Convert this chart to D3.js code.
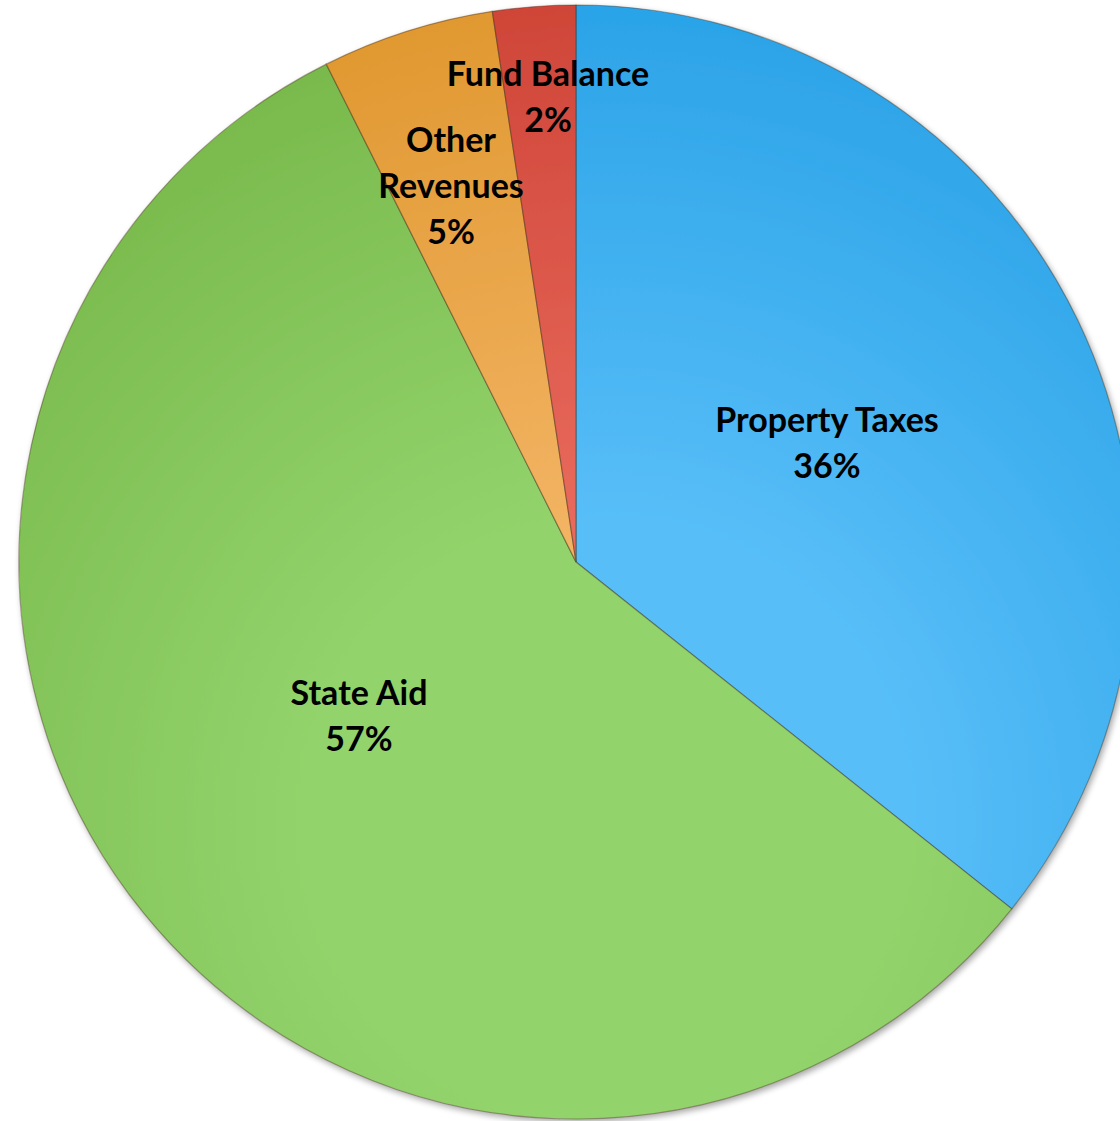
<!DOCTYPE html>
<html><head><meta charset="utf-8">
<script src="https://cdn.jsdelivr.net/npm/d3@7"></script>
<style>html,body{margin:0;padding:0;background:#fff;overflow:hidden}</style>
</head><body>
<svg id="chart" width="1120" height="1121"></svg>
<script>
const categories = ["Property Taxes", "State Aid", "Other Revenues", "Fund Balance"];
const values = [35.7, 56.9, 5.0, 2.4];
const percentLabels = ["36%", "57%", "5%", "2%"];
const labelLines = [["Property Taxes"], ["State Aid"], ["Other", "Revenues"], ["Fund Balance"]];

const colorsDark = ["#27a1e6", "#77b749", "#df962d", "#cd4235"];
const colorsLight = ["#58bef8", "#92d36c", "#f2b362", "#e86a5c"];

const svg = d3.select("#chart");
const cx = 576, cy = 562, R = 557;

const defs = svg.append("defs");
const f = defs.append("filter").attr("id","sh").attr("x","-10%").attr("y","-10%").attr("width","120%").attr("height","120%");
f.append("feGaussianBlur").attr("in","SourceAlpha").attr("stdDeviation",3).attr("result","b");
f.append("feOffset").attr("in","b").attr("dx",2).attr("dy",3).attr("result","o");
f.append("feComponentTransfer").attr("in","o").attr("result","o2").append("feFuncA").attr("type","linear").attr("slope",0.35);
const m = f.append("feMerge"); m.append("feMergeNode").attr("in","o2"); m.append("feMergeNode").attr("in","SourceGraphic");

// gradient coordinates are in the translated pie group's space
categories.forEach((c,i)=>{
  const g = defs.append("radialGradient").attr("id","g"+i)
    .attr("gradientUnits","userSpaceOnUse").attr("cx",30).attr("cy",260).attr("r",860);
  g.append("stop").attr("offset","0%").attr("stop-color",colorsLight[i]);
  g.append("stop").attr("offset","35%").attr("stop-color",colorsLight[i]);
  g.append("stop").attr("offset","100%").attr("stop-color",colorsDark[i]);
});

const pie = d3.pie().sort(null).value(d=>d.v);
const data = pie(categories.map((c,i)=>({c, v: values[i], i})));
const arc = d3.arc().innerRadius(0).outerRadius(R);

const g = svg.append("g").attr("transform",`translate(${cx},${cy})`);
g.append("g").attr("filter","url(#sh)").selectAll("path").data(data).join("path")
  .attr("d",arc).attr("fill",d=>`url(#g${d.data.i})`)
  .attr("stroke","rgba(60,40,20,0.4)").attr("stroke-width",1.2);

// label positions (offsets from the pie centre, in px)
const labelPos = [[251, -130], [-217, 143], [-125, -410], [-28, -476]];
const fs = 34, lh = 46;
data.forEach(d=>{
  const i = d.data.i;
  const lines = labelLines[i].concat([percentLabels[i]]);
  const t = g.append("text").attr("text-anchor","middle")
    .attr("font-family","Lato, 'Open Sans', sans-serif").attr("font-weight",700)
    .attr("font-size",fs).attr("fill","#000");
  lines.forEach((ln,j)=>{
    t.append("tspan").attr("x",labelPos[i][0]).attr("y",labelPos[i][1]+j*lh).text(ln);
  });
});
</script>
</body></html>
